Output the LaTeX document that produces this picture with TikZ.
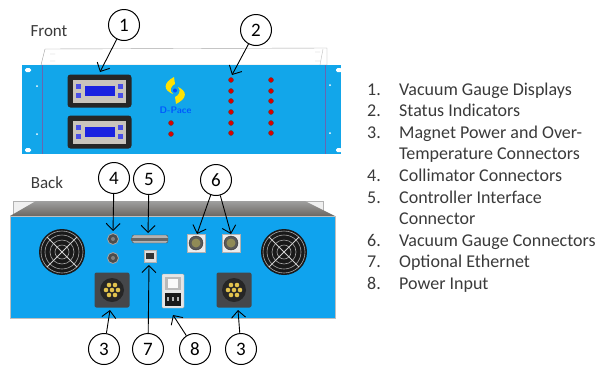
\documentclass[tikz,border=0pt]{standalone}
\usepackage{fontspec}
\setmainfont{Carlito}
\usetikzlibrary{arrows.meta}
\definecolor{panelblue}{HTML}{12A6EA}
\definecolor{backblue}{HTML}{0FA3EE}
\definecolor{screenblue}{HTML}{1A22E0}
\definecolor{bezel}{HTML}{C9C4BC}
\definecolor{lidgray}{HTML}{77736E}
\definecolor{plate}{HTML}{45474A}
\definecolor{textgray}{HTML}{3A3A3A}
\tikzstyle{callout}=[circle, draw, line width=1pt, fill=white, inner sep=0pt, minimum size=31pt, font=\fontsize{19}{19}\selectfont]
\tikzstyle{pointer}=[draw, line width=0.9pt, -{Straight Barb[length=7pt,width=14pt]}]
\tikzstyle{led}=[circle, draw=black!70, fill=red!85!black, inner sep=0pt, minimum size=5pt]
\tikzstyle{btn}=[fill=screenblue!80!white, inner sep=0pt, minimum size=4.5pt]
\tikzstyle{listitem}=[anchor=base west, inner sep=0pt, text=textgray, font=\fontsize{18}{18}\selectfont]
\tikzstyle{side}=[anchor=base, inner sep=0pt, text=textgray, font=\fontsize{17}{17}\selectfont]
\newcommand{\callout}{\node[callout]}
\newcommand{\listitem}{\node[listitem]}
\begin{document}
\begin{tikzpicture}[x=1pt,y=-1pt]
            \useasboundingbox (0,0) rectangle (605,365);
            % front panel
            \draw[gray!70, fill=white] (41,65) -- (45,49) -- (327,48) -- (327,65) -- cycle;
            \draw[gray!50] (50,54) -- (55,54) (50,61) -- (55,61) (315,52) -- (320,52) (315,61) -- (320,61) (320,65) -- (323,49);
            \fill[panelblue] (22,65) rectangle (341,154);
            \draw[blue!50!black!60, semithick] (42,65) -- (42,154) (325,65) -- (325,154);
            \foreach \x in {28,339} {
                \foreach \y in {70,150} {
                    \fill[white, rounded corners=1.5pt] (\x-3,\y-2) rectangle (\x+3,\y+2);
                }
            }
            \foreach \x/\y in {37/86, 37/134, 330/85, 330/133} {
                \fill[white] (\x,\y) circle (1pt);
            }
            % displays
            \foreach \y/\n in {91/a, 132/b} {
                \node[fill=black!85, rounded corners=3pt, minimum width=64pt, minimum height=33pt, inner sep=0pt] (disp\n) at (99.5,\y) {};
                \node[fill=bezel, minimum width=53pt, minimum height=23pt, inner sep=0pt] at (99.5,\y) {};
                \node[fill=screenblue, minimum width=30pt, minimum height=10pt, inner sep=0pt] at (99.5,\y) {};
                \foreach \x in {78.5,120.5} {
                    \node[btn] at (\x,\y-4.5) {};
                    \node[btn] at (\x,\y+4.5) {};
                }
            }
            % logo
            \fill[yellow!85!orange] (174,77) .. controls (163,83) and (163,90) .. (173,94) .. controls (168,91) and (172,85) .. (175,84) -- cycle;
            \fill[yellow!85!orange] (176,104) .. controls (188,98) and (187,91) .. (178,87) .. controls (182,91) and (178,96) .. (175,97) -- cycle;
            \fill[blue!70!cyan] (175,90.5) circle (2pt);
            \node[inner sep=0pt, text=blue!65!cyan, font=\sffamily\bfseries\fontsize{9.5}{9.5}\selectfont] (logo) at (175.5,110) {D-Pace};
            % indicators
            \foreach \y [count=\i] in {80,91,101,112,123,133} {
                \node[led] (la\i) at (231,\y) {};
                \node[led] (lb\i) at (271,\y) {};
            }
            \node[led] (lc1) at (171,123) {};
            \node[led] (lc2) at (171,134) {};
            % back panel
            \draw[gray!60, fill=gray!12] (13,217) -- (13,201) -- (323,201) -- (323,217) -- cycle;
            \shade[top color=gray!75, bottom color=lidgray!90!black] (10,216) -- (36,201) -- (305,201) -- (335,216) -- cycle;
            \fill[backblue] (10,216) rectangle (335,318);
            \draw[gray!50] (10,216) -- (10,318) -- (335,318) -- (335,216) -- cycle;
            % fans
            \foreach \x in {62,284} {
                \fill[black!90] (\x,252) circle (23pt);
                \foreach \r in {7,12,17,21} {
                    \draw[gray!70, semithick] (\x,252) circle (\r pt);
                }
                \draw[gray!35, line width=1pt] (\x-15,237) -- (\x+15,267) (\x-15,267) -- (\x+15,237);
            }
            % small connectors
            \foreach \y/\n in {239/a, 258/b} {
                \node[circle, fill=black!70, draw=gray!70, thick, minimum size=11pt, inner sep=0pt] (coll\n) at (113,\y) {};
                \fill[gray] (113,\y) circle (2pt);
            }
            \node[rounded corners=2pt, fill=gray!60, draw=black!70, minimum width=36pt, minimum height=8pt, inner sep=0pt] (sub) at (150,239) {};
            \fill[black!60] (131,237.5) rectangle (168,240.5);
            \foreach \x/\n in {196/a, 231/b} {
                \node[fill=gray!15, draw=gray!60, minimum size=18pt, inner sep=0pt] (gauge\n) at (\x,243) {};
                \draw[fill=black!65, draw=black!80] (\x,243) circle (7pt);
                \fill[gray!60!olive] (\x,243) circle (4.5pt);
            }
            \node[fill=gray!25, draw=gray!60, minimum size=12pt, inner sep=0pt] (eth) at (150,256) {};
            \fill[black!80] (146,253) rectangle (154,259);
            \foreach \x/\n in {112/a, 234/b} {
                \node[fill=plate, rounded corners=2pt, minimum size=35pt, inner sep=0pt] (mag\n) at (\x,290) {};
                \fill[black!85] (\x,290) circle (12pt);
                \foreach \dx/\dy in {-3/-5, 3/-5, -6/0, 0/0, 6/0, -3/5, 3/5} {
                    \fill[yellow!45!brown!90!white] (\x+\dx,290+\dy) circle (2.3pt);
                }
            }
            \node[fill=gray!20, draw=gray!70, rounded corners=1pt, minimum width=22pt, minimum height=34pt, inner sep=0pt] (pwr) at (173,291) {};
            \fill[gray!55] (165,277) rectangle (181,290);
            \fill[gray!5] (168,279) rectangle (178,288);
            \fill[black!90] (165,293) rectangle (181,306);
            \foreach \x/\y in {168/298, 173/298, 178/298} {
                \fill[gray!60] (\x-1,\y-1) rectangle (\x+1,\y+3);
            }
            % labels
            \node[side] (front) at (49,36) {Front};
            \node[side] (back) at (47,188) {Back};
            % callouts
            \callout (c1) at (124,25) {1};
            \callout (c2) at (256,30) {2};
            \callout (c4) at (114,178) {4};
            \callout (c5) at (149,179) {5};
            \callout (c6) at (216,180) {6};
            \callout (c3a) at (104,349) {3};
            \callout (c7) at (148,349) {7};
            \callout (c8) at (195,349) {8};
            \callout (c3b) at (241,349) {3};
            \coordinate (t1) at (100,72);
            \coordinate (t2) at (232,75);
            \coordinate (t4) at (113,231);
            \coordinate (t5) at (148,233);
            \coordinate (t6a) at (197,234);
            \coordinate (t6b) at (231,234);
            \coordinate (t3a) at (110,310);
            \coordinate (t7) at (149,265);
            \coordinate (t8) at (173,315);
            \coordinate (t3b) at (238,310);
            \path
                (c1) edge[pointer] (t1)
                (c2) edge[pointer] (t2)
                (c4) edge[pointer] (t4)
                (c5) edge[pointer] (t5)
                (c6) edge[pointer] (t6a) edge[pointer] (t6b)
                (c3a) edge[pointer] (t3a)
                (c7) edge[pointer] (t7)
                (c8) edge[pointer] (t8)
                (c3b) edge[pointer] (t3b)
            ;
            % parts list
            \foreach \y/\n/\t [count=\i] in {95/1./Vacuum Gauge Displays, 116.5/2./Status Indicators, 138/3./Magnet Power and Over-, 159.5/{}/Temperature Connectors, 181/4./Collimator Connectors, 203/5./Controller Interface, 224.5/{}/Connector, 246/6./Vacuum Gauge Connectors, 267.5/7./Optional Ethernet, 289/8./Power Input} {
                \listitem (num\i) at (367,\y) {\n};
                \listitem (item\i) at (399,\y) {\t};
            }
        \end{tikzpicture}
\end{document}
